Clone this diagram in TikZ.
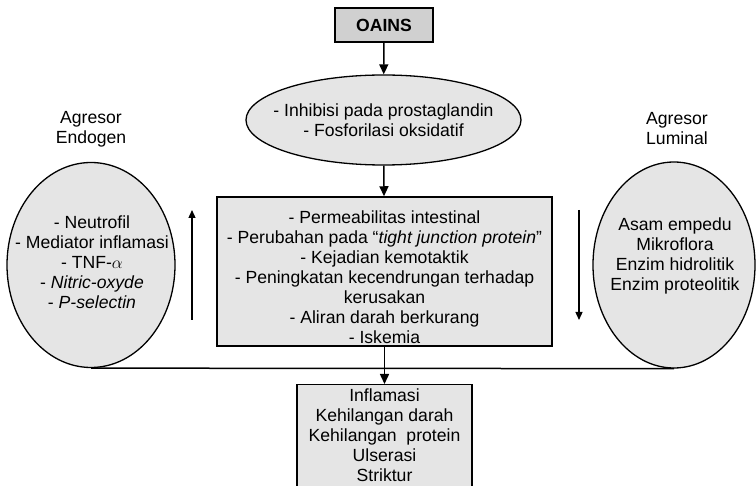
\documentclass[tikz,border=0pt]{standalone}
\usepackage{fontspec}
\setmainfont{Liberation Sans}
\usetikzlibrary{arrows.meta}
\usetikzlibrary{shapes.geometric}
\usetikzlibrary{positioning}

\begin{document}
\begin{tikzpicture}[x=1pt, y=-1pt,
    font=\fontsize{17.6}{20}\selectfont,
    box/.style={draw, line width=1.5pt, fill=gray!20, inner sep=0pt},
    oval/.style={draw, ellipse, line width=1.3pt, fill=gray!20, inner sep=0pt},
    txt/.style={align=center, inner sep=0pt},
    flow/.style={line width=1.5pt, -{Triangle[length=10pt, width=9pt]}},
    side/.style={line width=1.3pt, -{Triangle[length=8pt, width=7pt]}}]
    \useasboundingbox (0,0) rectangle (756,486);

    % OAINS
    \node[box, fill=gray!37, minimum width=98pt, minimum height=34pt, font=\fontsize{17.6}{20}\selectfont\bfseries] (oains) at (384,25) {OAINS};

    % Mekanisme awal
    \node[oval, minimum width=275pt, minimum height=90pt] (mech) at (383.5,120) {};
    \node[txt] at (mech.center) {- Inhibisi pada prostaglandin\\- Fosforilasi oksidatif};

    % Efek pada mukosa
    \node[box, minimum width=335pt, minimum height=149pt] (mukosa) at (384.5,271.5) {};
    \node[txt] at (384.5,277) {- Permeabilitas intestinal\\
        - Perubahan pada ``\textit{tight junction protein}''\\
        - Kejadian kemotaktik\\
        - Peningkatan kecendrungan terhadap\\
        kerusakan\\
        - Aliran darah berkurang\\
        - Iskemia};

    % Agresor endogen
    \node[txt] (labelendo) at (91,129) {Agresor\\Endogen};
    \node[oval, minimum width=168pt, minimum height=205pt] (endo) at (91,265) {};
    \node[txt] at (92,262) {- Neutrofil\\- Mediator inflamasi\\- TNF-$\alpha$\\- \textit{Nitric-oxyde}\\- \textit{P-selectin}};

    % Agresor luminal
    \node[txt] (labellum) at (677,129) {Agresor\\Luminal};
    \node[oval, minimum width=162pt, minimum height=206pt] (lumen) at (674,265) {};
    \node[txt] at (675,256) {Asam empedu\\Mikroflora\\Enzim hidrolitik\\Enzim proteolitik};

    % Akibat
    \node[box, minimum width=175pt, minimum height=108pt, anchor=north] (akibat) at (384.5,384) {};
    \node[txt] at (384.5,435.5) {Inflamasi\\Kehilangan darah\\Kehilangan~ protein\\Ulserasi\\Striktur};

    % Arah pengaruh
    \coordinate (upbot) at (192,320);
    \coordinate (uptop) at (192,210);
    \coordinate (dntop) at (579,210);
    \coordinate (dnbot) at (579,320);
    \draw[side] (upbot) -- (uptop);
    \draw[side] (dntop) -- (dnbot);

    % Panah utama
    \draw[flow] (oains) -- (mech);
    \draw[flow] (mech) -- (mukosa);
    \draw[line width=1.5pt] (endo.south) -- (lumen.south);
    \draw[flow] (mukosa) -- (akibat);
\end{tikzpicture}
\end{document}
